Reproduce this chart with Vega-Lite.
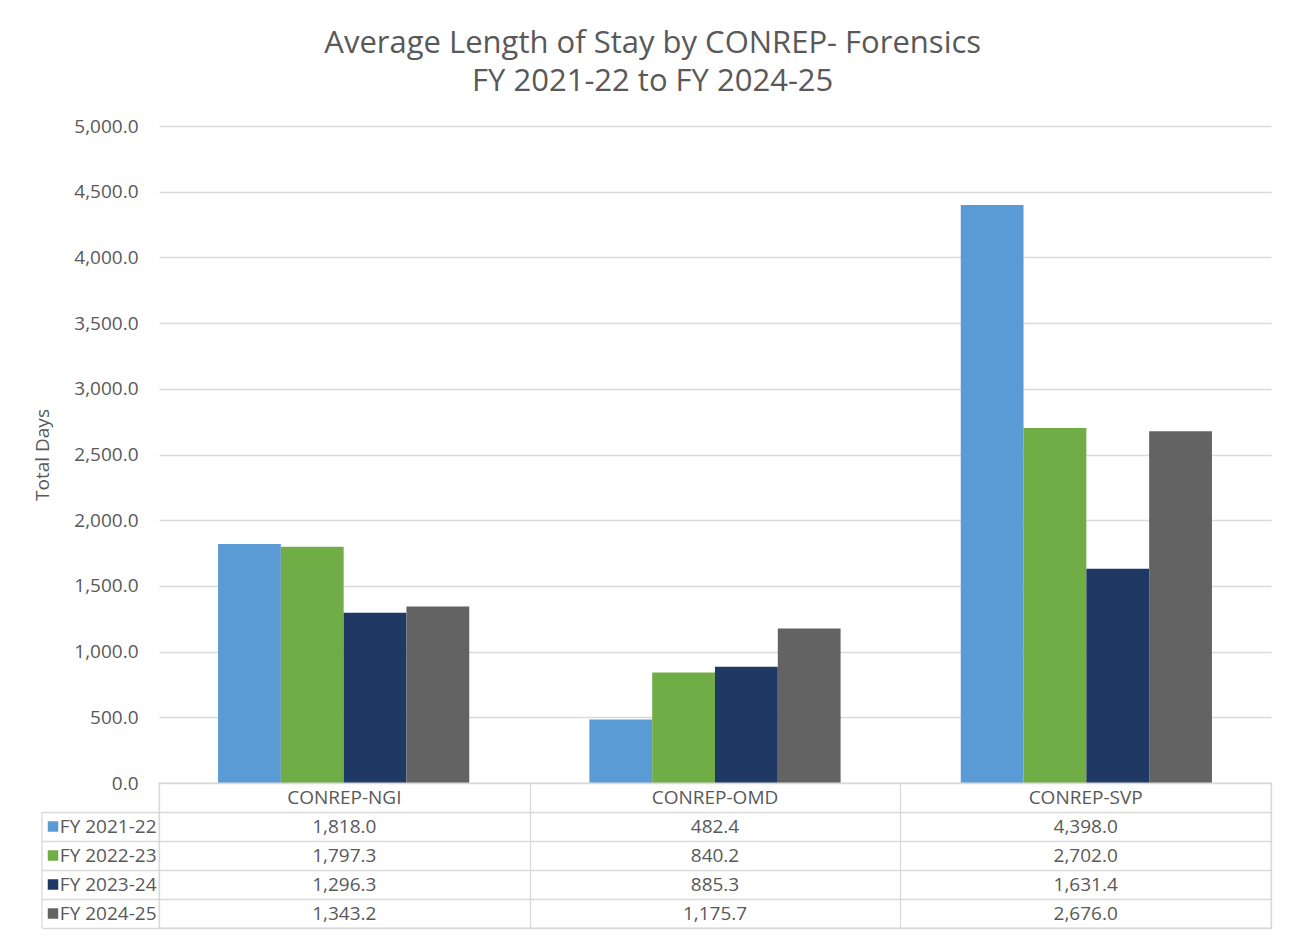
{
  "$schema": "https://vega.github.io/schema/vega-lite/v6.json",
  "padding": {"left": 33, "top": 28, "right": 16, "bottom": 5},
  "background": "white",
  "title": {
    "text": ["Average Length of Stay by CONREP- Forensics", "FY 2021-22 to FY 2024-25"],
    "fontSize": 31,
    "fontWeight": "normal",
    "color": "#595959",
    "lineHeight": 38,
    "anchor": "middle",
    "offset": 19
  },
  "data": {
    "values": [
      {"category": "CONREP-NGI", "series": "FY 2021-22", "days": 1818.0},
      {"category": "CONREP-NGI", "series": "FY 2022-23", "days": 1797.3},
      {"category": "CONREP-NGI", "series": "FY 2023-24", "days": 1296.3},
      {"category": "CONREP-NGI", "series": "FY 2024-25", "days": 1343.2},
      {"category": "CONREP-OMD", "series": "FY 2021-22", "days": 482.4},
      {"category": "CONREP-OMD", "series": "FY 2022-23", "days": 840.2},
      {"category": "CONREP-OMD", "series": "FY 2023-24", "days": 885.3},
      {"category": "CONREP-OMD", "series": "FY 2024-25", "days": 1175.7},
      {"category": "CONREP-SVP", "series": "FY 2021-22", "days": 4398.0},
      {"category": "CONREP-SVP", "series": "FY 2022-23", "days": 2702.0},
      {"category": "CONREP-SVP", "series": "FY 2023-24", "days": 1631.4},
      {"category": "CONREP-SVP", "series": "FY 2024-25", "days": 2676.0}
    ]
  },
  "bounds": "flush",
  "spacing": 0,
  "vconcat": [
    {
      "width": 1112,
      "height": 657,
      "view": {"stroke": null},
      "mark": {"type": "bar"},
      "encoding": {
        "x": {
          "field": "category",
          "type": "nominal",
          "sort": null,
          "axis": null,
          "scale": {"paddingInner": 0.3235, "paddingOuter": 0.159}
        },
        "xOffset": {"field": "series", "type": "nominal", "sort": null, "scale": {"paddingInner": 0}},
        "y": {
          "field": "days",
          "type": "quantitative",
          "scale": {"domain": [0, 5000], "nice": false},
          "axis": {
            "values": [0, 500, 1000, 1500, 2000, 2500, 3000, 3500, 4000, 4500, 5000],
            "format": ",.1f",
            "title": "Total Days",
            "titleFontSize": 19,
            "titleFontWeight": "normal",
            "titleColor": "#595959",
            "titlePadding": 21,
            "labelFontSize": 19,
            "labelColor": "#595959",
            "labelPadding": 21,
            "ticks": false,
            "tickSize": 0,
            "domain": false,
            "grid": true,
            "gridColor": "#d9d9d9",
            "gridWidth": 1.3
          }
        },
        "color": {
          "field": "series",
          "type": "nominal",
          "scale": {
            "domain": ["FY 2021-22", "FY 2022-23", "FY 2023-24", "FY 2024-25"],
            "range": ["#5b9bd5", "#70ad47", "#203864", "#636363"]
          },
          "legend": null
        }
      }
    },
    {
      "width": 1112,
      "height": 145,
      "view": {"stroke": "#d9d9d9", "strokeWidth": 1.3},
      "encoding": {
        "x": {
          "field": "category",
          "type": "nominal",
          "sort": null,
          "scale": {"paddingInner": 0, "paddingOuter": 0},
          "axis": {
            "title": null,
            "labels": false,
            "ticks": false,
            "domain": false,
            "grid": true,
            "tickBand": "extent",
            "gridColor": "#d9d9d9",
            "gridWidth": 1.3
          }
        },
        "y": {
          "field": "series",
          "type": "nominal",
          "scale": {
            "domain": ["header", "FY 2021-22", "FY 2022-23", "FY 2023-24", "FY 2024-25"],
            "paddingInner": 0,
            "paddingOuter": 0
          },
          "axis": {
            "title": null,
            "values": ["FY 2021-22", "FY 2022-23", "FY 2023-24", "FY 2024-25"],
            "grid": true,
            "gridColor": "#d9d9d9",
            "gridWidth": 1.3,
            "tickBand": "extent",
            "ticks": true,
            "tickSize": 117,
            "tickWidth": 1.3,
            "tickColor": "#d9d9d9",
            "domain": false,
            "labelPadding": -114,
            "labelFontSize": 19,
            "labelColor": "#595959"
          }
        }
      },
      "layer": [
        {
          "mark": {"type": "text", "fontSize": 19, "color": "#595959"},
          "encoding": {"text": {"field": "days", "type": "quantitative", "format": ",.1f"}}
        },
        {
          "transform": [{"filter": "datum.series === 'FY 2021-22'"}],
          "mark": {"type": "text", "fontSize": 19, "color": "#595959"},
          "encoding": {"y": {"datum": "header"}, "text": {"field": "category", "type": "nominal"}}
        },
        {
          "transform": [{"filter": "datum.category === 'CONREP-NGI'"}],
          "mark": {"type": "point", "shape": "square", "filled": true, "size": 110, "opacity": 1, "xOffset": -106},
          "encoding": {
            "x": {"datum": "CONREP-NGI", "bandPosition": 0},
            "color": {"field": "series", "type": "nominal", "legend": null}
          }
        },
        {
          "transform": [{"filter": "datum.category === 'CONREP-NGI' && datum.series === 'FY 2021-22'"}],
          "mark": {"type": "rule", "xOffset": -117, "color": "#d9d9d9", "strokeWidth": 1.3},
          "encoding": {
            "x": {"datum": "CONREP-NGI", "bandPosition": 0},
            "y": {"datum": "FY 2021-22", "bandPosition": 0},
            "y2": {"datum": "FY 2024-25", "bandPosition": 1}
          }
        }
      ]
    }
  ],
  "config": {
    "font": "Open Sans",
    "axis": {"labelFont": "Open Sans", "titleFont": "Open Sans"},
    "text": {"font": "Open Sans"},
    "title": {"font": "Open Sans"}
  }
}
